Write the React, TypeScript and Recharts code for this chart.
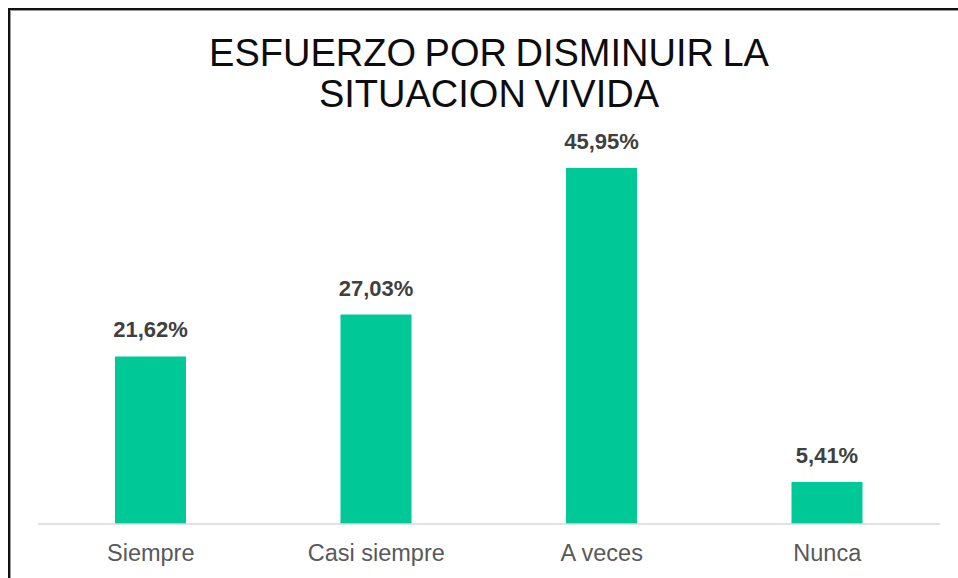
import React from "react";
import { BarChart, Bar, XAxis, YAxis, LabelList } from "recharts";

const categories = ["Siempre", "Casi siempre", "A veces", "Nunca"];
const values = [21.62, 27.03, 45.95, 5.41];
const titleLines = ["ESFUERZO POR DISMINUIR LA", "SITUACION VIVIDA"];

const data = categories.map((c, i) => ({ name: c, value: values[i] }));

const fmt = (v: number) => v.toFixed(2).replace(".", ",") + "%";

const Tick = (props: any) => {
  const { x, y, payload } = props;
  return (
    <text
      x={x}
      y={y + 29}
      textAnchor="middle"
      fill="#595959"
      fontFamily="'Liberation Sans', Arial, sans-serif"
      fontSize={23.5}
    >
      {payload.value}
    </text>
  );
};

export default function App() {
  return (
    <div style={{ position: "relative", width: 958, height: 578, background: "#fff", overflow: "hidden" }}>
      <style>{"html, body { margin: 0; padding: 0; overflow: hidden; background: #fff; } .recharts-surface, .recharts-wrapper { outline: none !important; }"}</style>
      <div style={{ position: "absolute", left: 8, top: 8, width: 950, height: 2, background: "#111" }} />
      <div style={{ position: "absolute", left: 8, top: 8, width: 2, height: 570, background: "#111" }} />
      <div style={{ position: "absolute", left: 10, top: 10, width: 948, height: 1, background: "#9a9a9a" }} />
      <div style={{ position: "absolute", left: 10, top: 10, width: 1, height: 568, background: "#9a9a9a" }} />
      {titleLines.map((t, i) => (
        <div
          key={i}
          style={{
            position: "absolute",
            left: 0,
            width: 978,
            top: 33 + i * 41,
            textAlign: "center",
            fontFamily: "'Liberation Sans', Arial, sans-serif",
            fontSize: 38,
            lineHeight: "40px",
            color: "#0d0d0d",
            letterSpacing: 0,
            wordSpacing: -2,
            whiteSpace: "nowrap",
          }}
        >
          {t}
        </div>
      ))}
      <div style={{ position: "absolute", left: 8, top: 8 }}>
        <BarChart
          width={950}
          height={562}
          data={data}
          margin={{ top: 128.5, right: 18, left: 30, bottom: 6 }}
          barSize={71}
        >
          <XAxis
            dataKey="name"
            height={40}
            axisLine={{ stroke: "#d9d9d9", strokeWidth: 1.5 }}
            tickLine={false}
            tick={<Tick />}
            interval={0}
          />
          <YAxis hide domain={[0, 50]} />
          <Bar dataKey="value" fill="#00C896" isAnimationActive={false}>
            <LabelList
              dataKey="value"
              position="top"
              offset={19}
              formatter={(v: any) => fmt(Number(v))}
              fill="#404040"
              fontFamily="'Liberation Sans', Arial, sans-serif"
              fontSize={22}
              fontWeight="bold"
            />
          </Bar>
        </BarChart>
      </div>
    </div>
  );
}
